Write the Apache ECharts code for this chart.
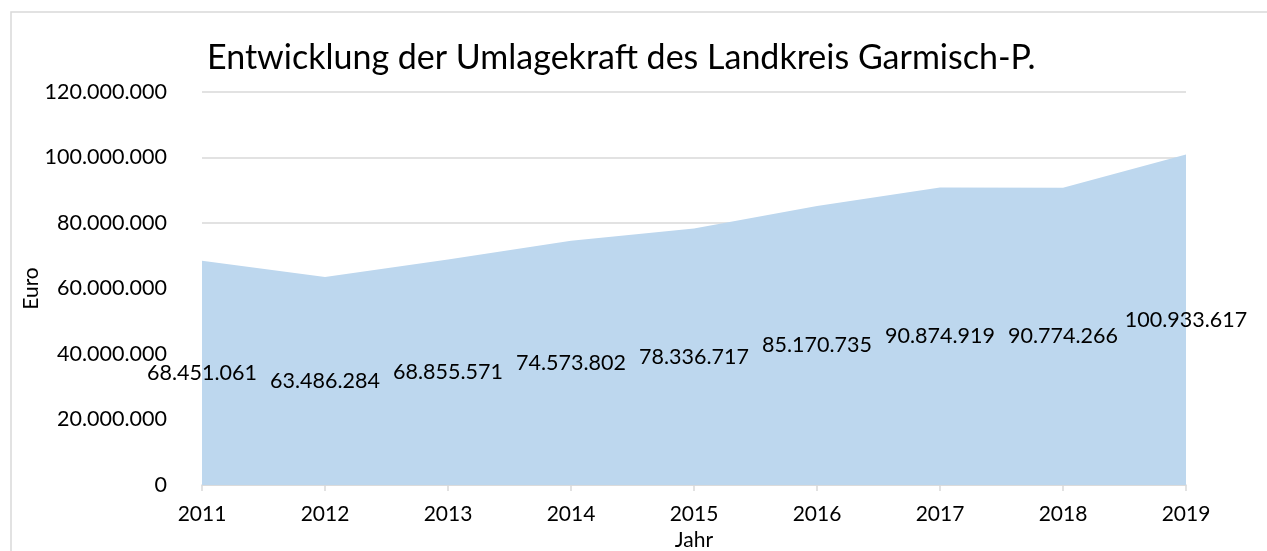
<!DOCTYPE html>
<html>
<head>
<meta charset="utf-8">
<script src="https://cdn.jsdelivr.net/npm/echarts@6/dist/echarts.min.js"></script>
<style>
  html, body { margin: 0; padding: 0; background: #fff; }
  #main { width: 1267px; height: 551px; }
</style>
</head>
<body>
<div id="main"></div>
<script>
// Jahre und Umlagekraft (Euro)
var years = ['2011', '2012', '2013', '2014', '2015', '2016', '2017', '2018', '2019'];
var umlagekraft = [68451061, 63486284, 68855571, 74573802, 78336717, 85170735, 90874919, 90774266, 100933617];

var FONT = 'Lato';

function dots(v) {
  return String(v).replace(/\B(?=(\d{3})+(?!\d))/g, '.');
}

var chart = echarts.init(document.getElementById('main'));

var option = {
  animation: false,
  backgroundColor: '#fff',
  textStyle: { fontFamily: FONT },
  graphic: [{
    type: 'rect',
    shape: { x: 11, y: 12, width: 1300, height: 600 },
    style: { fill: 'none', stroke: '#d9d9d9', lineWidth: 1.5 },
    silent: true
  }],
  title: {
    text: 'Entwicklung der Umlagekraft des Landkreis Garmisch-P.',
    left: 202,
    top: 36,
    textStyle: { fontFamily: FONT, fontSize: 34, fontWeight: 'normal', color: '#000' }
  },
  grid: { left: 202, right: 81, top: 92, bottom: 66, outerBoundsMode: 'none', containLabel: false },
  xAxis: {
    type: 'category',
    data: years,
    boundaryGap: false,
    name: 'Jahr',
    nameLocation: 'middle',
    nameGap: 44,
    nameTextStyle: { fontFamily: FONT, fontSize: 21, color: '#000' },
    axisLine: { lineStyle: { color: '#d9d9d9', width: 1.5 } },
    axisTick: { show: true, length: 6, lineStyle: { color: '#d9d9d9', width: 1.5 } },
    axisLabel: { fontFamily: FONT, fontSize: 21, color: '#000', margin: 19 },
    splitLine: { show: false }
  },
  yAxis: {
    type: 'value',
    min: 0,
    max: 120000000,
    interval: 20000000,
    name: 'Euro',
    nameLocation: 'middle',
    nameGap: 160,
    nameMoveOverlap: false,
    nameRotate: 90,
    nameTextStyle: { fontFamily: FONT, fontSize: 21, color: '#000' },
    axisLine: { show: false },
    axisTick: { show: false },
    axisLabel: {
      fontFamily: FONT, fontSize: 21.5, color: '#000', margin: 35,
      formatter: function (v) { return dots(v); }
    },
    splitLine: { lineStyle: { color: '#d9d9d9', width: 1.5 } }
  },
  series: [
    {
      name: 'Umlagekraft',
      type: 'line',
      data: umlagekraft,
      symbol: 'none',
      lineStyle: { width: 0 },
      areaStyle: { color: '#bdd7ee', opacity: 1 },
      z: 2
    },
    {
      // Datenbeschriftung in der Mitte der Fläche (wie Excel)
      name: 'Beschriftung',
      type: 'custom',
      data: umlagekraft.map(function (v, i) { return [i, v]; }),
      encode: { x: 0, y: 1 },
      z: 5,
      renderItem: function (params, api) {
        var top = api.coord([api.value(0), api.value(1)]);
        var base = api.coord([api.value(0), 0]);
        return {
          type: 'text',
          style: {
            text: dots(api.value(1)),
            x: top[0],
            y: (top[1] + base[1]) / 2,
            align: 'center',
            verticalAlign: 'middle',
            fontFamily: FONT,
            fontSize: 21.5,
            fill: '#000'
          }
        };
      }
    }
  ]
};

chart.setOption(option);
</script>
</body>
</html>
